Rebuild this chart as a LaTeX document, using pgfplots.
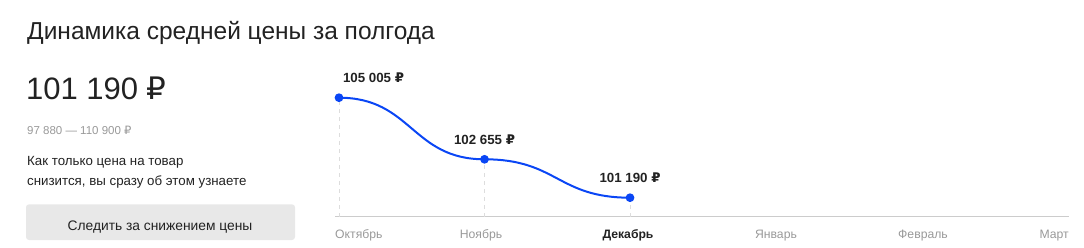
\documentclass[border=0pt]{standalone}
\usepackage{fontspec}
\setmainfont{Liberation Sans}
\newfontfamily\rubfont{DejaVu Sans}
\usepackage{pgfplots}
\pgfplotsset{compat=1.18}
\protected\def\rub{{\rubfont ₽}}
\definecolor{txt}{HTML}{222222}
\definecolor{gr}{HTML}{999999}
\definecolor{ln}{HTML}{0A46F5}
\definecolor{btn}{HTML}{E8E8E8}
\definecolor{axl}{HTML}{CCCCCC}
\definecolor{dsh}{HTML}{DDDDDD}
\makeatletter
\def\pgfplothandlerbumpx{%
  \def\pgf@plotstreamstart{%
    \global\let\pgf@plotstreampoint=\pgf@plot@bump@first
    \global\let\pgf@plotstreamspecial=\pgfutil@gobble
    \global\let\pgf@plotstreamend=\relax
  }%
}
\def\pgf@plot@bump@first#1{%
  \pgf@process{#1}%
  \xdef\pgf@plot@bump@lx{\the\pgf@x}%
  \xdef\pgf@plot@bump@ly{\the\pgf@y}%
  \pgf@plot@first@action{\pgfqpoint{\pgf@plot@bump@lx}{\pgf@plot@bump@ly}}%
  \global\let\pgf@plotstreampoint=\pgf@plot@bump@next
}
\def\pgf@plot@bump@next#1{%
  \pgf@process{#1}%
  \edef\bump@nx{\the\pgf@x}%
  \edef\bump@ny{\the\pgf@y}%
  \pgf@xb=\pgf@plot@bump@lx
  \advance\pgf@xb by \pgf@x
  \divide\pgf@xb by 2
  \edef\bump@cx{\the\pgf@xb}%
  \pgfpathcurveto{\pgfqpoint{\bump@cx}{\pgf@plot@bump@ly}}{\pgfqpoint{\bump@cx}{\bump@ny}}{\pgfqpoint{\bump@nx}{\bump@ny}}%
  \xdef\pgf@plot@bump@lx{\bump@nx}%
  \xdef\pgf@plot@bump@ly{\bump@ny}%
}
\tikzset{bump x/.code={\let\tikz@plot@handler=\pgfplothandlerbumpx}}
\makeatother
\begin{document}
\begin{tikzpicture}
\useasboundingbox (0,0) rectangle (1084pt,247pt);
% left panel
\node[anchor=base west, inner sep=0, text=txt, font=\fontsize{24.5}{28}\selectfont] at (27pt,207.5pt) {Динамика средней цены за полгода};
\node[anchor=base west, inner sep=0, text=txt, font=\fontsize{31}{35}\selectfont] at (26pt,148pt) {101 190 \rub};
\node[anchor=base west, inner sep=0, text=gr, font=\fontsize{11.5}{14}\selectfont] at (27pt,113pt) {97 880 — 110 900 \rub};
\node[anchor=base west, inner sep=0, text=txt, font=\fontsize{13.3}{16}\selectfont] at (27pt,82pt) {Как только цена на товар};
\node[anchor=base west, inner sep=0, text=txt, font=\fontsize{13.3}{16}\selectfont] at (27pt,62pt) {снизится, вы сразу об этом узнаете};
\fill[btn, rounded corners=3pt] (26pt,7pt) rectangle (295pt,42.7pt);
\node[anchor=base, inner sep=0, text=txt, font=\fontsize{13.8}{16}\selectfont] at (160pt,17pt) {Следить за снижением цены};
% month labels
\begin{scope}[every node/.style={anchor=base, inner sep=0, text=gr, font=\fontsize{12.2}{15}\selectfont}]
\node[anchor=base west] at (335pt,9pt) {Октябрь};
\node at (481pt,9pt) {Ноябрь};
\node[text=txt, font=\fontsize{12.2}{15}\selectfont\bfseries] at (628pt,9pt) {Декабрь};
\node at (776pt,9pt) {Январь};
\node at (923pt,9pt) {Февраль};
\node[anchor=base east] at (1069pt,9pt) {Март};
\end{scope}
\begin{axis}[
  at={(335pt,30.3pt)}, anchor=south west,
  scale only axis, width=734pt, height=156.7pt,
  xmin=-0.0275, xmax=5.017, ymin=100465, ymax=106443,
  axis x line=bottom, axis y line=none,
  axis line style={axl, line width=0.8pt, -},
  xtick=\empty, ytick=\empty,
  clip=true,
]
\addplot[ycomb, dsh, line width=0.8pt, dash pattern=on 4pt off 4pt, mark=none] coordinates {(0,105005) (1,102655) (2,101190)};
\addplot[bump x, ln, line width=2pt, mark=*, mark size=3.3pt, mark options={fill=ln, draw=ln, solid},
  point meta=explicit symbolic,
  nodes near coords={\pgfplotspointmeta},
  nodes near coords style={anchor=base, yshift=15pt, inner sep=0, text=txt, font=\fontsize{13.3}{15}\selectfont\bfseries},
  ] coordinates {(0,105005) [{\hphantom{105 005 \rub}\hspace{8pt}105 005 \rub}] (1,102655) [{102 655 \rub}] (2,101190) [{101 190 \rub}]};
\end{axis}
\end{tikzpicture}
\end{document}
